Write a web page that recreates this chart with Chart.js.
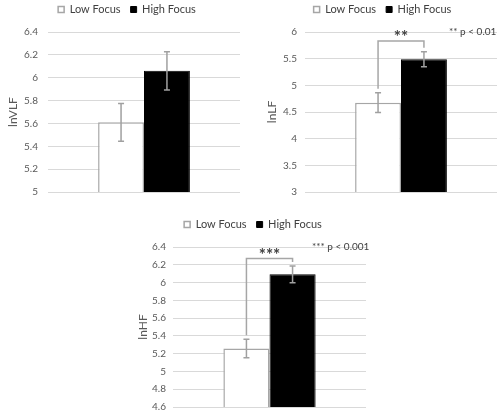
<!DOCTYPE html>
<html>
<head>
<meta charset="utf-8">
<script src="https://cdn.jsdelivr.net/npm/chart.js@4.4.1/dist/chart.umd.min.js"></script>
<style>
  html, body { margin: 0; padding: 0; background: #fff; overflow: hidden; width: 497px; height: 413px; position: relative; }
  canvas { position: absolute; }
</style>
</head>
<body>
<canvas id="vlf" width="248" height="200" style="left:0px;top:0px"></canvas>
<canvas id="lf" width="242" height="200" style="left:262px;top:0px"></canvas>
<canvas id="hf" width="242" height="200" style="left:132px;top:215px"></canvas>
<script>
// Groups compared in every panel
const groups = ['Low Focus', 'High Focus'];

// lnVLF: means and error half-widths
const vlfMeans = [5.61, 6.06];
const vlfErrors = [0.165, 0.168];
const vlfTicks = [5, 5.2, 5.4, 5.6, 5.8, 6, 6.2, 6.4];

// lnLF
const lfMeans = [4.675, 5.49];
const lfErrors = [0.185, 0.14];
const lfTicks = [3, 3.5, 4, 4.5, 5, 5.5, 6];
const lfBracket = 5.83;
const lfStars = '**';
const lfNote = '** p < 0.01';

// lnHF
const hfMeans = [5.257, 6.093];
const hfErrors = [0.104, 0.094];
const hfTicks = [4.6, 4.8, 5, 5.2, 5.4, 5.6, 5.8, 6, 6.2, 6.4];
const hfBracket = 6.27;
const hfStars = '***';
const hfNote = '*** p < 0.001';

const FONT = 'Lato, "Open Sans", sans-serif';
const TEXT_GREY = '#595959';

// Fixed legend height plus a small shift of where the legend row is painted
const legendPlacement = {
  id: 'legendPlacement',
  beforeInit(chart, args, opts) {
    const legend = chart.legend;
    if (!legend) return;
    const fit = legend.fit;
    legend.fit = function () { fit.call(this); this.height = opts.height; };
    const draw = legend.draw;
    legend.draw = function () {
      const ctx = this.ctx;
      ctx.save();
      ctx.translate(opts.dx, opts.dy);
      draw.call(this);
      ctx.restore();
    };
  }
};

// Vertical error bars with caps, centred on each bar
const errorBars = {
  id: 'errorBars',
  afterDatasetsDraw(chart, args, opts) {
    const { ctx } = chart;
    const y = chart.scales.y;
    ctx.save();
    ctx.strokeStyle = opts.color;
    ctx.lineWidth = opts.width;
    chart.data.datasets.forEach((ds, i) => {
      const bar = chart.getDatasetMeta(i).data[0];
      const v = ds.data[0];
      const e = opts.errors[i];
      const top = y.getPixelForValue(v + e);
      const bot = y.getPixelForValue(v - e);
      const x = bar.x;
      const h = opts.cap / 2;
      ctx.beginPath();
      ctx.moveTo(x, top); ctx.lineTo(x, bot);
      ctx.moveTo(x - h, top); ctx.lineTo(x + h, top);
      ctx.moveTo(x - h, bot); ctx.lineTo(x + h, bot);
      ctx.stroke();
    });
    ctx.restore();
  }
};

// Significance bracket between the two bars, stars above it, and the p-value note
const significance = {
  id: 'significance',
  afterDatasetsDraw(chart, args, opts) {
    const { ctx, chartArea } = chart;
    const y = chart.scales.y;
    const ds = chart.data.datasets;
    const b0 = chart.getDatasetMeta(0).data[0];
    const b1 = chart.getDatasetMeta(1).data[0];
    const yTop = y.getPixelForValue(opts.bracket);
    const y0 = y.getPixelForValue(ds[0].data[0] + opts.errors[0]) - opts.gap;
    const y1 = y.getPixelForValue(ds[1].data[0] + opts.errors[1]) - opts.gap;
    ctx.save();
    ctx.strokeStyle = '#a6a6a6';
    ctx.lineWidth = 1.5;
    ctx.beginPath();
    ctx.moveTo(b0.x, y0);
    ctx.lineTo(b0.x, yTop);
    ctx.lineTo(b1.x, yTop);
    ctx.lineTo(b1.x, y1);
    ctx.stroke();

    ctx.fillStyle = '#404040';
    ctx.font = 'bold 17px ' + FONT;
    ctx.textAlign = 'center';
    ctx.textBaseline = 'alphabetic';
    ctx.fillText(opts.stars, (b0.x + b1.x) / 2, yTop + 2);

    ctx.font = '10px ' + FONT;
    ctx.textAlign = 'left';
    ctx.fillText(opts.note, chartArea.right + opts.noteDx, chartArea.top + 3);
    ctx.restore();
  }
};

function makeChart(id, cfg) {
  const plugins = [legendPlacement, errorBars];
  if (cfg.sig) plugins.push(significance);
  return new Chart(document.getElementById(id), {
    type: 'bar',
    data: {
      labels: [''],
      datasets: [
        { label: groups[0], data: [cfg.means[0]], backgroundColor: '#ffffff',
          borderColor: '#a6a6a6', borderWidth: 1.5, borderSkipped: false },
        { label: groups[1], data: [cfg.means[1]], backgroundColor: '#000000',
          borderColor: '#000000', borderWidth: 1, borderSkipped: false }
      ]
    },
    options: {
      responsive: false,
      animation: false,
      devicePixelRatio: 1,
      layout: { padding: { left: 0, right: cfg.padRight, top: 0, bottom: 8 } },
      datasets: { bar: { categoryPercentage: 0.478, barPercentage: 1 } },
      scales: {
        x: { display: false },
        y: {
          min: cfg.ticks[0],
          max: cfg.ticks[cfg.ticks.length - 1],
          afterBuildTicks(scale) { scale.ticks = cfg.ticks.map(v => ({ value: v })); },
          afterFit(scale) {
            scale.width = cfg.axisWidth;
            scale.paddingTop = 0;
            scale.paddingBottom = 0;
          },
          ticks: {
            padding: cfg.tickPad,
            color: TEXT_GREY,
            font: { family: FONT, size: 10 },
            callback: (v) => String(v)
          },
          grid: { color: '#d9d9d9', lineWidth: 1, drawTicks: false },
          border: { display: false },
          title: {
            display: true,
            text: cfg.title,
            color: TEXT_GREY,
            font: { family: FONT, size: 12 },
            padding: { top: cfg.titlePad, bottom: 0 }
          }
        }
      },
      plugins: {
        tooltip: { enabled: false },
        legend: {
          position: 'top',
          labels: {
            boxWidth: 6,
            boxHeight: 6,
            padding: 10,
            color: '#404040',
            font: { family: FONT, size: 11 }
          }
        },
        legendPlacement: { height: 32, dx: cfg.legendDx, dy: -6 },
        errorBars: { errors: cfg.errors, color: '#a0a0a0', width: 1.5, cap: 6 },
        significance: cfg.sig || {}
      }
    },
    plugins
  });
}

makeChart('vlf', {
  title: 'lnVLF', means: vlfMeans, errors: vlfErrors, ticks: vlfTicks,
  axisWidth: 48, titlePad: 6, tickPad: 10, padRight: 8, legendDx: 7
});

makeChart('lf', {
  title: 'lnLF', means: lfMeans, errors: lfErrors, ticks: lfTicks,
  axisWidth: 43, titlePad: 2.5, tickPad: 8, padRight: 7, legendDx: 3,
  sig: { bracket: lfBracket, stars: lfStars, note: lfNote, errors: lfErrors, gap: 4, noteDx: -48 }
});

makeChart('hf', {
  title: 'lnHF', means: hfMeans, errors: hfErrors, ticks: hfTicks,
  axisWidth: 41, titlePad: 4, tickPad: 7, padRight: 8, legendDx: 4,
  sig: { bracket: hfBracket, stars: hfStars, note: hfNote, errors: hfErrors, gap: 4, noteDx: -54 }
});
</script>
</body>
</html>
